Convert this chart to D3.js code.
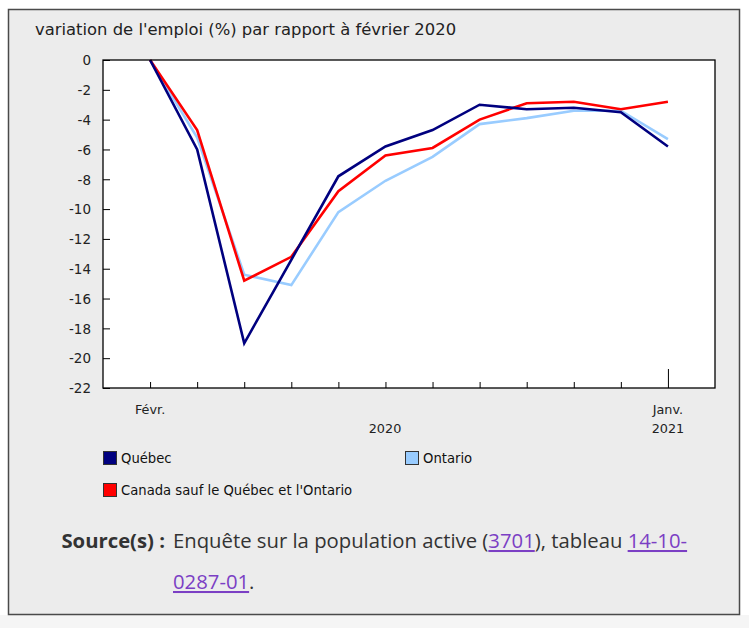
<!DOCTYPE html>
<html>
<head>
<meta charset="utf-8">
<script src="https://cdn.jsdelivr.net/npm/d3@7"></script>
<style>
  body { margin: 0; background: #fff; }
  svg { display: block; }
  .vf { font-family: 'DejaVu Sans', 'Verdana', sans-serif; }
</style>
</head>
<body>
<svg id="chart" width="749" height="628"></svg>
<script>
// months from Feb 2020 to Jan 2021
const months = ["Févr.", "Mars", "Avr.", "Mai", "Juin", "Juil.", "Août", "Sept.", "Oct.", "Nov.", "Déc.", "Janv."];
const quebec = [0, -6.0, -19.0, -13.4, -7.8, -5.8, -4.7, -3.0, -3.3, -3.2, -3.5, -5.8];
const ontario = [0, -5.2, -14.4, -15.1, -10.2, -8.1, -6.5, -4.3, -3.9, -3.4, -3.4, -5.3];
const restCanada = [0, -4.7, -14.8, -13.2, -8.8, -6.4, -5.9, -4.0, -2.9, -2.8, -3.3, -2.8];
const yTicks = [0, -2, -4, -6, -8, -10, -12, -14, -16, -18, -20, -22];

const series = [
    {name: "Québec", values: quebec, color: "#00007f"},
    {name: "Ontario", values: ontario, color: "#99ccff"},
    {name: "Canada sauf le Québec et l'Ontario", values: restCanada, color: "#ff0000"}
];

const svg = d3.select("#chart");

// frame
svg.append("rect").attr("x", 0).attr("y", 615).attr("width", 749).attr("height", 13).attr("fill", "#f5f5f5");
svg.append("rect")
    .attr("x", 8.5).attr("y", 9.5).attr("width", 731).attr("height", 605)
    .attr("fill", "#ececec").attr("stroke", "#4a4a4a").attr("stroke-width", 1.5);

svg.append("text")
    .attr("class", "vf")
    .attr("x", 35).attr("y", 35)
    .attr("font-size", 16.4)
    .attr("fill", "#222")
    .text("variation de l'emploi (%) par rapport à février 2020");

const plot = {left: 103, top: 60, right: 715, bottom: 388};

const x = d3.scaleLinear().domain([-1, months.length]).range([plot.left, plot.right]);
const y = d3.scaleLinear().domain([-22, 0]).range([plot.bottom, plot.top]);

svg.append("rect")
    .attr("x", plot.left).attr("y", plot.top)
    .attr("width", plot.right - plot.left).attr("height", plot.bottom - plot.top)
    .attr("fill", "#fff");

// y axis, ticks pointing into the plot
const yAxis = svg.append("g")
    .attr("transform", `translate(${plot.left},0)`)
    .call(d3.axisLeft(y).tickValues(yTicks).tickSize(-7).tickPadding(12).tickFormat(d => String(d)));
yAxis.select(".domain").remove();
yAxis.selectAll("line").attr("stroke", "#000");
yAxis.selectAll("text").attr("class", "vf").attr("font-size", 13.5).attr("fill", "#222").attr("dy", "0.35em");

// x axis ticks
const xAxis = svg.append("g")
    .attr("transform", `translate(0,${plot.bottom})`)
    .call(d3.axisBottom(x).tickValues(d3.range(months.length)).tickSize(-6).tickFormat(""));
xAxis.select(".domain").remove();
xAxis.selectAll("line")
    .attr("stroke", "#000")
    .attr("y2", (d, i) => i === months.length - 1 ? -19 : -6);

const xLabels = [
    {i: 0, row: 0, text: "Févr."},
    {i: 11, row: 0, text: "Janv."},
    {i: 11, row: 1, text: "2021"},
    {i: 5, row: 1, text: "2020"}
];
svg.append("g").selectAll("text")
    .data(xLabels)
    .join("text")
    .attr("class", "vf")
    .attr("x", d => d.text === "2020" ? (x(0) + x(11)) / 2 - 24 : x(d.i))
    .attr("y", d => plot.bottom + 26 + d.row * 19)
    .attr("text-anchor", "middle")
    .attr("font-size", 12.8)
    .attr("fill", "#222")
    .text(d => d.text);

// lines
const line = d3.line()
    .x((d, i) => x(i))
    .y(d => y(d));

svg.append("g")
    .selectAll("path")
    .data([series[1], series[2], series[0]])
    .join("path")
    .attr("d", d => line(d.values))
    .attr("fill", "none")
    .attr("stroke", d => d.color)
    .attr("stroke-width", 2.6)
    .attr("stroke-linejoin", "miter");

// plot border on top
svg.append("rect")
    .attr("x", plot.left).attr("y", plot.top)
    .attr("width", plot.right - plot.left).attr("height", plot.bottom - plot.top)
    .attr("fill", "none").attr("stroke", "#000").attr("stroke-width", 1.3);

// legend
const legendPos = [{x: 103, y: 451}, {x: 405, y: 451}, {x: 103, y: 483}];
const legend = svg.append("g")
    .selectAll("g")
    .data(series)
    .join("g")
    .attr("transform", (d, i) => `translate(${legendPos[i].x},${legendPos[i].y})`);
legend.append("rect")
    .attr("x", 0.5).attr("y", 0.5).attr("width", 13).attr("height", 13)
    .attr("fill", d => d.color).attr("stroke", "#333").attr("stroke-width", 1);
legend.append("text")
    .attr("class", "vf")
    .attr("x", 18).attr("y", 7).attr("dy", "0.35em")
    .attr("font-size", 13.2)
    .attr("fill", "#111")
    .text(d => d.name);

// source note
const src = svg.append("g")
    .attr("font-family", "'Open Sans', sans-serif")
    .attr("font-size", 20.3)
    .attr("fill", "#333");
src.append("text").attr("x", 165).attr("y", 548).attr("text-anchor", "end")
    .attr("font-weight", "bold").text("Source(s) :");
const line1 = src.append("text").attr("x", 173).attr("y", 548);
line1.append("tspan").text("Enquête sur la population active (");
line1.append("tspan").attr("fill", "#7b3fc4").attr("text-decoration", "underline").text("3701");
line1.append("tspan").text("), tableau ");
line1.append("tspan").attr("fill", "#7b3fc4").attr("text-decoration", "underline").text("14-10-");
const line2 = src.append("text").attr("x", 173).attr("y", 589);
line2.append("tspan").attr("fill", "#7b3fc4").attr("text-decoration", "underline").text("0287-01");
line2.append("tspan").text(".");
</script>
</body>
</html>
